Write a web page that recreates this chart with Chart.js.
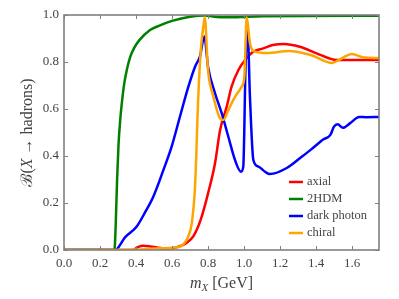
<!DOCTYPE html>
<html><head><meta charset="utf-8">
<script src="https://cdn.jsdelivr.net/npm/chart.js@4"></script>
<style>html,body{margin:0;padding:0;background:#fff}#wrap{width:399px;height:299px}</style>
</head><body><div id="wrap"><canvas id="c" width="399" height="299"></canvas></div>
<script>
const seriesLabels = ["axial", "2HDM", "dark photon", "chiral"];
const seriesColors = ["#ff0000", "#008000", "#0000ff", "#ffa500"];
const xTickValues = [0, 0.2, 0.4, 0.6, 0.8, 1.0, 1.2, 1.4, 1.6];
const yTickValues = [0, 0.2, 0.4, 0.6, 0.8, 1.0];

const axialX = [0, 0.38, 0.41, 0.44, 0.48, 0.52, 0.56, 0.6, 0.64, 0.68, 0.72, 0.76, 0.80, 0.839, 0.867, 0.904, 0.931, 0.969, 1.006, 1.052, 1.107, 1.16, 1.22, 1.31, 1.4, 1.5, 1.55, 1.75];
const axialY = [0, 0, 0.012, 0.018, 0.015, 0.01, 0.007, 0.008, 0.015, 0.03, 0.06, 0.13, 0.24, 0.369, 0.51, 0.61, 0.695, 0.766, 0.808, 0.844, 0.858, 0.872, 0.877, 0.865, 0.838, 0.81, 0.808, 0.808];

const hdmX = [0, 0.28, 0.287, 0.295, 0.303, 0.312, 0.322, 0.335, 0.35, 0.367, 0.39, 0.42, 0.478, 0.53, 0.6, 0.7, 0.78, 0.85, 0.95, 1.0, 1.1, 1.75];
const hdmY = [0, 0, 0.1, 0.3, 0.45, 0.55, 0.63, 0.71, 0.77, 0.82, 0.86, 0.894, 0.936, 0.955, 0.975, 0.993, 0.998, 0.992, 0.99, 0.992, 0.995, 0.997];

const darkX = [0, 0.283, 0.34, 0.404, 0.45, 0.496, 0.552, 0.598, 0.644, 0.691, 0.728, 0.755, 0.78, 0.80, 0.839, 0.876, 0.913, 0.95, 0.983, 0.996, 1.009, 1.02, 1.033, 1.052, 1.08, 1.117, 1.144, 1.24, 1.31, 1.37, 1.44, 1.48, 1.5, 1.52, 1.55, 1.59, 1.64, 1.68, 1.75];
const darkY = [0, 0, 0.055, 0.1, 0.16, 0.227, 0.34, 0.44, 0.567, 0.695, 0.78, 0.823, 0.908, 0.78, 0.667, 0.582, 0.482, 0.383, 0.333, 0.355, 0.794, 0.936, 0.652, 0.383, 0.355, 0.333, 0.323, 0.35, 0.39, 0.426, 0.47, 0.49, 0.525, 0.535, 0.52, 0.54, 0.566, 0.565, 0.566];

const chiralX = [0, 0.4, 0.5, 0.6, 0.644, 0.67, 0.69, 0.71, 0.728, 0.746, 0.76, 0.774, 0.782, 0.80, 0.83, 0.867, 0.885, 0.913, 0.95, 0.987, 1.002, 1.015, 1.033, 1.061, 1.13, 1.25, 1.37, 1.49, 1.53, 1.6, 1.66, 1.75];
const chiralY = [0, 0.002, 0.006, 0.01, 0.014, 0.03, 0.057, 0.115, 0.27, 0.652, 0.85, 0.95, 0.99, 0.766, 0.652, 0.56, 0.553, 0.596, 0.652, 0.695, 0.738, 0.99, 0.88, 0.844, 0.838, 0.847, 0.83, 0.796, 0.81, 0.834, 0.82, 0.817];

const xs = [axialX, hdmX, darkX, chiralX];
const ys = [axialY, hdmY, darkY, chiralY];
const drawOrder = [3, 2, 1, 0];

const datasets = seriesLabels.map((lab, i) => ({
  label: lab,
  data: xs[i].map((x, k) => ({x: x, y: ys[i][k]})),
  borderColor: seriesColors[i],
  backgroundColor: seriesColors[i],
  borderWidth: 2.5,
  pointRadius: 0,
  cubicInterpolationMode: 'monotone',
  fill: false,
  order: drawOrder[i]
}));

const FONT = '"Liberation Serif", "DejaVu Serif", serif';
const TXT = '#444444';

const framePlugin = {
  id: 'frame',
  afterDatasetsDraw(chart) {
    const ctx = chart.ctx, a = chart.chartArea;
    const xs_ = chart.scales.x, ys_ = chart.scales.y;
    ctx.save();
    ctx.strokeStyle = '#808080';
    ctx.lineWidth = 1.6;
    ctx.strokeRect(a.left, a.top, a.right - a.left, a.bottom - a.top);
    ctx.lineWidth = 1;
    ctx.beginPath();
    xTickValues.forEach(v => {
      const px = Math.round(xs_.getPixelForValue(v)) + 0.5;
      ctx.moveTo(px, a.bottom); ctx.lineTo(px, a.bottom - 4);
      ctx.moveTo(px, a.top); ctx.lineTo(px, a.top + 4);
    });
    yTickValues.forEach(v => {
      const py = Math.round(ys_.getPixelForValue(v)) + 0.5;
      ctx.moveTo(a.left, py); ctx.lineTo(a.left + 4, py);
      ctx.moveTo(a.right, py); ctx.lineTo(a.right - 4, py);
    });
    ctx.stroke();

    // legend
    ctx.textBaseline = 'middle';
    ctx.textAlign = 'left';
    ctx.font = '12.5px ' + FONT;
    const lx = a.right - 90, ly = a.top + 167;
    chart.data.datasets.forEach((ds, i) => {
      const y = ly + i * 17;
      ctx.strokeStyle = ds.borderColor;
      ctx.lineWidth = 2.5;
      ctx.beginPath(); ctx.moveTo(lx, y); ctx.lineTo(lx + 14, y); ctx.stroke();
      ctx.fillStyle = TXT;
      ctx.fillText(ds.label, lx + 18, y);
    });

    // x title: m_X [GeV]
    const cx = (a.left + a.right) / 2;
    const ty = 283;
    ctx.fillStyle = TXT;
    ctx.textBaseline = 'alphabetic';
    const f1 = 'italic 16px ' + FONT, f2 = 'italic 11px ' + FONT, f3 = '16px ' + FONT;
    ctx.font = f1; const w1 = ctx.measureText('m').width;
    ctx.font = f2; const w2 = ctx.measureText('X').width;
    ctx.font = f3; const w3 = ctx.measureText(' [GeV]').width;
    let sx = cx - (w1 + w2 + w3) / 2;
    ctx.font = f1; ctx.fillText('m', sx, ty + 5); sx += w1;
    ctx.font = f2; ctx.fillText('X', sx, ty + 8); sx += w2;
    ctx.font = f3; ctx.fillText(' [GeV]', sx, ty + 5);

    // y title: ℬ(X → hadrons)
    ctx.save();
    ctx.translate(32, (a.top + a.bottom) / 2);
    ctx.rotate(-Math.PI / 2);
    const parts = [['ℬ(', '16px ' + FONT], ['X', 'italic 16px ' + FONT], [' → hadrons)', '16px ' + FONT]];
    let tw = 0;
    parts.forEach(p => { ctx.font = p[1]; p.push(ctx.measureText(p[0]).width); tw += p[2]; });
    let px0 = -tw / 2;
    parts.forEach(p => { ctx.font = p[1]; ctx.fillText(p[0], px0, 0); px0 += p[2]; });
    ctx.restore();
    ctx.restore();
  }
};

new Chart(document.getElementById('c'), {
  type: 'line',
  data: { datasets: datasets },
  options: {
    responsive: false,
    animation: false,
    devicePixelRatio: 1,
    layout: { padding: { top: 15, right: 20, left: 0, bottom: 0 } },
    plugins: { legend: { display: false }, tooltip: { enabled: false } },
    scales: {
      x: {
        type: 'linear', min: 0, max: 1.75,
        afterFit(s) { s.height = 49; },
        afterBuildTicks(s) { s.ticks = xTickValues.map(v => ({value: v})); },
        grid: { display: false, drawTicks: false },
        border: { display: false },
        ticks: { color: TXT, font: { family: FONT, size: 13 }, padding: 6, maxRotation: 0,
          callback: v => Number(v).toFixed(1) }
      },
      y: {
        type: 'linear', min: 0, max: 1,
        afterFit(s) { s.width = 64; },
        afterBuildTicks(s) { s.ticks = yTickValues.map(v => ({value: v})); },
        grid: { display: false, drawTicks: false },
        border: { display: false },
        ticks: { color: TXT, font: { family: FONT, size: 13 }, padding: 5,
          callback: v => Number(v).toFixed(1) }
      }
    }
  },
  plugins: [framePlugin]
});
</script>
</body></html>
